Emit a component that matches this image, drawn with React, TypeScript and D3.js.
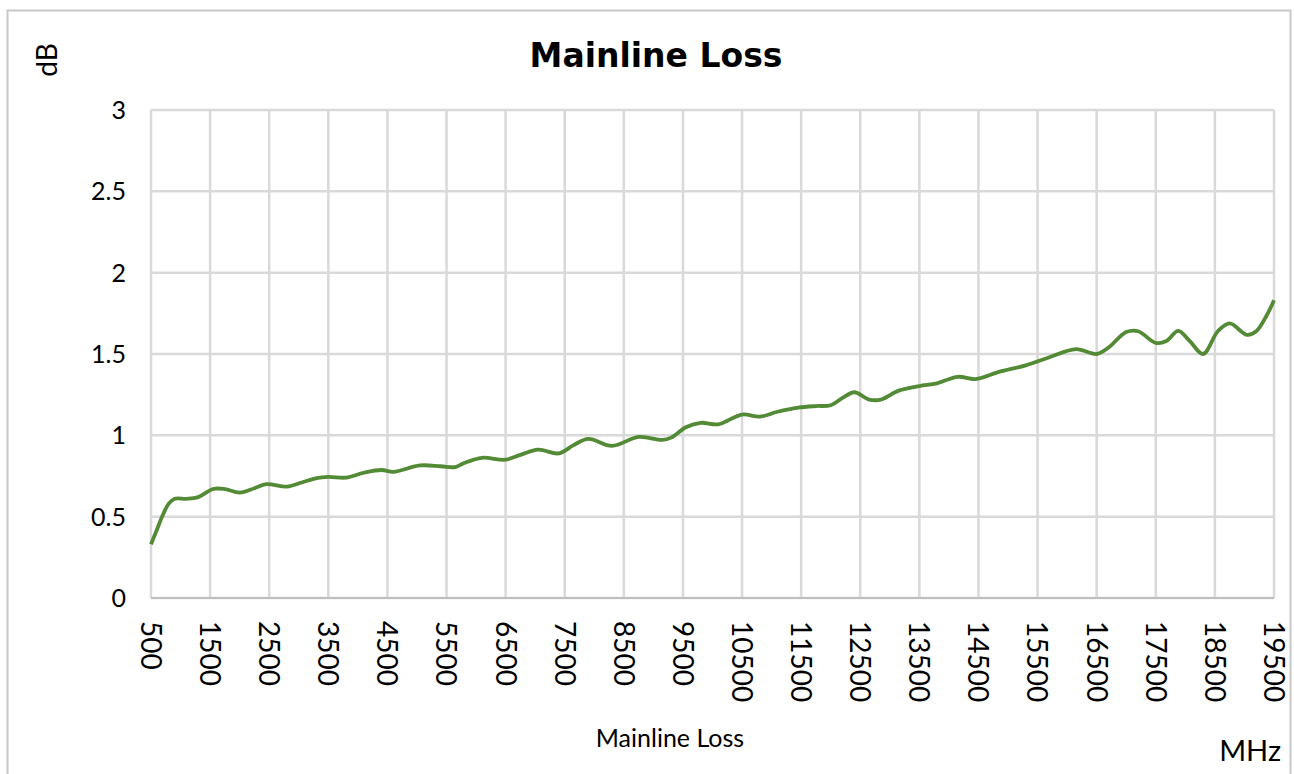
import React from 'react';
import * as d3 from 'd3';

// 频率 (MHz)
const freqs = [
  500, 600, 700, 800, 900, 1100, 1300, 1550, 1750, 2000, 2250, 2450, 2800, 3050, 3300, 3500,
  3800, 4100, 4400, 4600, 5050, 5400, 5650, 5800, 6100, 6500, 6750, 7050, 7400, 7650, 7900,
  8300, 8750, 9150, 9300, 9550, 9800, 10100, 10500, 10800, 11100, 11450, 11750, 12000, 12200,
  12400, 12650, 12850, 13150, 13500, 13800, 14150, 14450, 14850, 15300, 15700, 16150, 16500,
  16700, 17000, 17200, 17500, 17680, 17880, 18080, 18300, 18550, 18750, 19040, 19200, 19380, 19500,
];
// 损耗 (dB)
const losses = [
  0.33, 0.42, 0.51, 0.58, 0.61, 0.61, 0.62, 0.67, 0.67, 0.648, 0.675, 0.7, 0.685, 0.71, 0.737, 0.745,
  0.74, 0.77, 0.787, 0.775, 0.815, 0.81, 0.805, 0.83, 0.862, 0.85, 0.88, 0.912, 0.889, 0.94, 0.978,
  0.935, 0.99, 0.972, 0.986, 1.05, 1.077, 1.068, 1.128, 1.115, 1.145, 1.17, 1.18, 1.185, 1.23,
  1.265, 1.22, 1.22, 1.275, 1.303, 1.32, 1.36, 1.346, 1.39, 1.43, 1.48, 1.53, 1.5,
  1.54, 1.635, 1.64, 1.568, 1.58, 1.642, 1.577, 1.5, 1.64, 1.688, 1.618, 1.64, 1.74, 1.83,
];
const xTicks = d3.range(500, 19501, 1000);
const yTicks = [0, 0.5, 1, 1.5, 2, 2.5, 3];

const W = 1294;
const H = 774;
const left = 151, right = 1274, top = 110, bottom = 598;
const font = 'Lato, "Open Sans", sans-serif';

export default function App() {
  const x = d3.scaleLinear().domain([500, 19500]).range([left, right]);
  const y = d3.scaleLinear().domain([0, 3]).range([bottom, top]);
  const points = freqs.map((f, i) => [f, losses[i]] as [number, number]);
  const line = d3.line<[number, number]>()
    .x(d => x(d[0]))
    .y(d => y(d[1]))
    .curve(d3.curveCatmullRom.alpha(0.5));

  return (
    <svg width={W} height={H} style={{ position: 'absolute', left: 0, top: 0, background: '#fff' }}>
      {/* 外框 */}
      <rect x={7.5} y={10.5} width={1283} height={780} fill="#fff" stroke="#c8c8c8" strokeWidth={2} />

      {/* 网格 */}
      {yTicks.map(t => (
        <line key={'h' + t} x1={left} x2={right} y1={y(t)} y2={y(t)} stroke="#d9d9d9" strokeWidth={2.5} />
      ))}
      {xTicks.map(t => (
        <line key={'v' + t} x1={x(t)} x2={x(t)} y1={top} y2={bottom} stroke="#d9d9d9" strokeWidth={2.5} />
      ))}
      <line x1={left} x2={right} y1={bottom} y2={bottom} stroke="#bfbfbf" strokeWidth={2} />

      {/* 曲线 */}
      <path d={line(points) ?? ''} fill="none" stroke="#538a35" strokeWidth={3.8} strokeLinejoin="round" />

      {/* y轴刻度 */}
      {yTicks.map(t => (
        <text key={'yt' + t} x={126} y={y(t)} dy="0.36em" textAnchor="end" fontFamily={font} fontSize={25} fill="#000">
          {String(t)}
        </text>
      ))}
      {/* x轴刻度，竖排 */}
      {xTicks.map(t => (
        <text key={'xt' + t} transform={`translate(${x(t)},621) rotate(90)`} dy="0.36em"
          fontFamily={font} fontSize={28} fill="#000">
          {String(t)}
        </text>
      ))}

      {/* 标题 */}
      <text x={656} y={67} textAnchor="middle" fontFamily='"DejaVu Sans", Verdana, sans-serif' fontWeight="bold" fontSize={33} fill="#000">
        Mainline  Loss
      </text>
      <text x={670} y={747} textAnchor="middle" fontFamily={font} fontSize={25} fill="#000">Mainline Loss</text>
      <text x={1281} y={761} textAnchor="end" fontFamily={font} fontSize={29} fill="#000">MHz</text>
      <text transform="translate(57,60) rotate(-90)" textAnchor="middle" fontFamily={font} fontSize={28} fill="#000">dB</text>
    </svg>
  );
}
